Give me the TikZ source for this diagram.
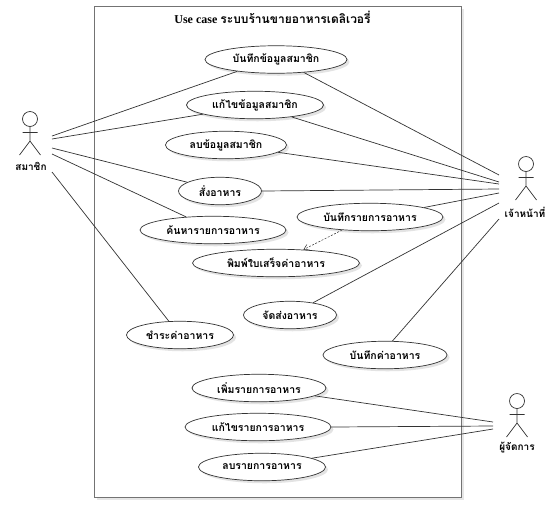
\documentclass[tikz,border=0pt]{standalone}
\usepackage{fontspec}
\setmainfont{Liberation Serif}
\newfontfamily\thaifont[Script=Thai]{Loma}
\usepackage{xcolor}
\usepackage{tikz}
\usetikzlibrary{shapes.geometric,shadows,arrows.meta}

\begin{document}
\begin{tikzpicture}[
    x=1pt, y=-1pt,
    usecase/.style={draw=black!80, ellipse, fill=white, inner sep=0pt, line width=0.7pt,
                    minimum height=27.5pt, font=\fontsize{10.5}{12}\thaifont\bfseries,
                    drop shadow={opacity=0.22, shadow xshift=2.5pt, shadow yshift=-2.5pt}},
    sysbox/.style={draw=black!55, fill=white, line width=1pt,
                   drop shadow={opacity=0.2, shadow xshift=3pt, shadow yshift=-3pt}},
    actorname/.style={font=\fontsize{10}{12}\thaifont\bfseries, inner sep=0pt},
    link/.style={black!80, line width=0.7pt},
    incl/.style={-{Straight Barb[length=5pt,width=6pt]}, black!80, dashed,
                 dash pattern=on 2pt off 1.5pt, line width=0.5pt},
    actor/.pic={
      \draw[link] (0,0) circle (7.5);
      \draw[link] (0,7.5) -- (0,22) (-7.5,13.5) -- (7.5,13.5)
                  (-10.5,36) -- (0,22) -- (10.5,36);
    },
  ]
  \useasboundingbox (0,0) rectangle (556,507);
  \node[sysbox, minimum width=367pt, minimum height=491pt, inner sep=0pt] (sys) at (277.5,251.5) {};
  \node[inner sep=0pt, font=\fontsize{12}{14}\selectfont\bfseries] (title) at (272.5,17.5)
    {Use case {\thaifont\fontsize{12}{14}\selectfont ระบบร้านขายอาหารเดลิเวอรี่}};

  % use cases
  \node[usecase, minimum width=142pt] (addmem)   at (276,59.5) {บันทึกข้อมูลสมาชิก};
  \node[usecase, minimum width=137pt] (editmem)  at (255,105)  {แก้ไขข้อมูลสมาชิก};
  \node[usecase, minimum width=121pt] (delmem)   at (226,145)  {ลบข้อมูลสมาชิก};
  \node[usecase, minimum width=83pt]  (order)    at (220,191)  {สั่งอาหาร};
  \node[usecase, minimum width=146pt] (search)   at (213,230)  {ค้นหารายการอาหาร};
  \node[usecase, minimum width=146pt] (saveitem) at (370,217)  {บันทึกรายการอาหาร};
  \node[usecase, minimum width=167pt] (receipt)  at (276,263)  {พิมพ์ใบเสร็จค่าอาหาร};
  \node[usecase, minimum width=93pt]  (deliver)  at (290,315)  {จัดส่งอาหาร};
  \node[usecase, minimum width=107pt] (pay)      at (180,335)  {ชำระค่าอาหาร};
  \node[usecase, minimum width=124pt] (savepay)  at (385,355)  {บันทึกค่าอาหาร};
  \node[usecase, minimum width=134pt] (additem)  at (259,388)  {เพิ่มรายการอาหาร};
  \node[usecase, minimum width=146pt] (edititem) at (258,427)  {แก้ไขรายการอาหาร};
  \node[usecase, minimum width=127pt] (delitem)  at (262,467)  {ลบรายการอาหาร};

  % actors
  \pic at (30,119)  {actor};
  \pic at (526,164) {actor};
  \pic at (517,401) {actor};
  \node[actorname] (member)  at (31,166)  {สมาชิก};
  \node[actorname] (officer) at (525,212) {เจ้าหน้าที่};
  \node[actorname] (manager) at (517,448) {ผู้จัดการ};

  % free ends next to the actors
  \coordinate (mem1) at (52,136);
  \coordinate (mem2) at (52,139);
  \coordinate (mem3) at (52,148);
  \coordinate (mem4) at (52,154);
  \coordinate (mem5) at (52,172);
  \coordinate (off1) at (499,175);
  \coordinate (off2) at (499,182);
  \coordinate (off3) at (499,184);
  \coordinate (off4) at (499,189);
  \coordinate (off5) at (499,193);
  \coordinate (off6) at (499,203);
  \coordinate (off7) at (499,219);
  \coordinate (mgr1) at (493,422);
  \coordinate (mgr2) at (493,426);
  \coordinate (mgr3) at (493,429);

  \draw[link] (mem1) -- (addmem.197);
  \draw[link] (mem2) -- (editmem.190);
  \draw[link] (mem3) -- (order.165);
  \draw[link] (mem4) -- (search.154);
  \draw[link] (mem5) -- (pay.129);

  \draw[link] (addmem.-25)   -- (off1);
  \draw[link] (editmem.-18)  -- (off2);
  \draw[link] (delmem.-8)    -- (off3);
  \draw[link] (order.0)      -- (off4);
  \draw[link] (saveitem.10)  -- (off5);
  \draw[link] (deliver.28)   -- (off6);
  \draw[link] (savepay.62)   -- (off7);

  \draw[link] (additem.-8)   -- (mgr1);
  \draw[link] (edititem.0)   -- (mgr2);
  \draw[link] (delitem.10)   -- (mgr3);

  \draw[incl] (saveitem.205) -- (receipt.26);
\end{tikzpicture}
\end{document}
